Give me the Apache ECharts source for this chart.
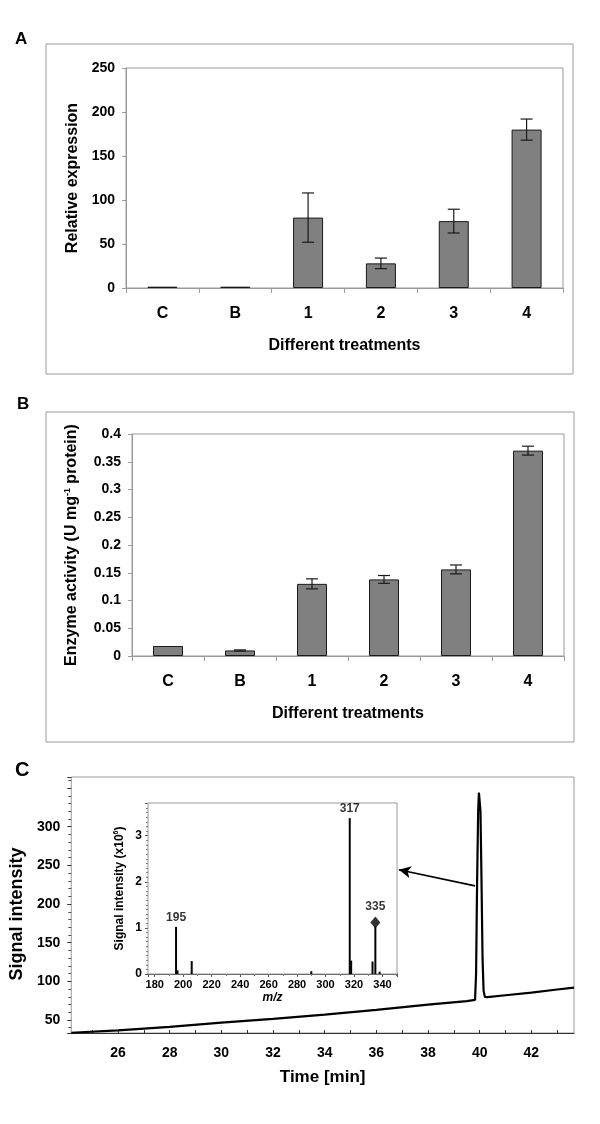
<!DOCTYPE html>
<html><head><meta charset="utf-8">
<script src="https://cdn.jsdelivr.net/npm/echarts@6/dist/echarts.min.js"></script>
<style>html,body{margin:0;padding:0;background:#fff}#c{width:600px;height:1124px}</style>
</head><body><div id="c"></div>
<script>
// ---------- data ----------
const categories = ['C', 'B', '1', '2', '3', '4'];
const exprValues = [1.5, 1.5, 80, 28, 76, 180];
const exprErrors = [0, 0, 28, 6, 13.5, 12];
const exprTicks = [0, 50, 100, 150, 200, 250];
const enzValues = [0.018, 0.010, 0.130, 0.138, 0.156, 0.370];
const enzErrors = [0, 0.001, 0.009, 0.007, 0.008, 0.008];

const timeMin = [24.19, 26, 28, 30, 32, 34, 36, 38, 39.5, 39.82, 39.86, 39.9, 39.94, 39.97, 40.0, 40.03, 40.07, 40.11, 40.15, 40.2, 40.3, 41, 42, 43, 43.65];
const signal  = [33.5, 36.5, 41, 46.5, 51.5, 57, 63, 70, 74.5, 76, 110, 230, 320, 344, 344, 320, 230, 130, 88, 80, 79.5, 82, 85.5, 89.5, 92];

const mzValues    = [195, 196, 206, 290, 317, 318, 333, 335, 338];
const mzIntensity = [1.02, 0.08, 0.28, 0.06, 3.38, 0.29, 0.27, 1.03, 0.05];
const labeledPeaks = [195, 317, 335];

const arrowFrom = [39.82, 223.5];
const arrowTo = [36.87, 244.4];

// ---------- helpers ----------
const FONT = "'Liberation Sans', Arial, Helvetica, sans-serif";
const GRAY = '#9a9a9a';

function errorSeries(vals, errs, axisIdx) {
  return {
    type: 'custom', xAxisIndex: axisIdx, yAxisIndex: axisIdx, z: 5, silent: true,
    data: vals.map((v, i) => [i, v - errs[i], v + errs[i]]),
    renderItem(params, api) {
      const lo = api.coord([api.value(0), api.value(1)]);
      const hi = api.coord([api.value(0), api.value(2)]);
      if (Math.abs(lo[1] - hi[1]) < 0.3) return { type: 'group', children: [] };
      const w = 6;
      const st = { stroke: '#1a1a1a', lineWidth: 1.2 };
      return { type: 'group', children: [
        { type: 'line', shape: { x1: hi[0], y1: hi[1], x2: lo[0], y2: lo[1] }, style: st },
        { type: 'line', shape: { x1: hi[0] - w, y1: hi[1], x2: hi[0] + w, y2: hi[1] }, style: st },
        { type: 'line', shape: { x1: lo[0] - w, y1: lo[1], x2: lo[0] + w, y2: lo[1] }, style: st }
      ]};
    }
  };
}

function catAxis(gi) {
  return {
    type: 'category', gridIndex: gi, data: categories, boundaryGap: true,
    axisLine: { lineStyle: { color: GRAY, width: 1 } },
    axisTick: { show: true, alignWithLabel: false, length: 5, lineStyle: { color: GRAY } },
    axisLabel: { color: '#000', fontSize: 16, fontWeight: 'bold', fontFamily: FONT, margin: 18 },
    name: 'Different treatments', nameLocation: 'middle', nameGap: 50,
    nameTextStyle: { color: '#000', fontSize: 16, fontWeight: 'bold', fontFamily: FONT }
  };
}

const labelStyle = { color: '#000', fontWeight: 'bold', fontFamily: FONT };

const option = {
  animation: false,
  backgroundColor: '#fff',
  textStyle: { fontFamily: FONT },
  grid: [
    { left: 126, right: 37, top: 68, bottom: 836, show: true, borderColor: GRAY, borderWidth: 1 },
    { left: 132, right: 36, top: 434, bottom: 468, show: true, borderColor: GRAY, borderWidth: 1 },
    { left: 68, right: 26, top: 777, bottom: 91, show: true, borderColor: GRAY, borderWidth: 1 },
    { left: 148, right: 203, top: 803, bottom: 150, show: true, borderColor: GRAY, borderWidth: 1, backgroundColor: '#fff', z: 3 }
  ],
  xAxis: [
    catAxis(0),
    catAxis(1),
    {
      type: 'value', gridIndex: 2, min: 24.19, max: 43.65, minInterval: 1, maxInterval: 1,
      splitLine: { show: false },
      axisLine: { show: true, lineStyle: { color: '#333', width: 1 } },
      axisTick: { show: true, inside: true, length: 3, lineStyle: { color: '#333' } },
      axisLabel: Object.assign({ fontSize: 14, margin: 13, showMinLabel: false, showMaxLabel: false,
        formatter: v => (Math.abs(v % 2) < 1e-6 ? String(v) : '') }, labelStyle),
      name: 'Time [min]', nameLocation: 'middle', nameGap: 36,
      nameTextStyle: Object.assign({ fontSize: 17 }, labelStyle)
    },
    {
      type: 'value', gridIndex: 3, min: 175.3, max: 350.2, minInterval: 20, maxInterval: 20,
      splitLine: { show: false },
      axisLine: { show: true, onZero: false, lineStyle: { color: '#000', width: 1.5 } },
      axisTick: { show: true, length: 3, lineStyle: { color: '#555' } },
      minorTick: { show: true, splitNumber: 2, length: 2, lineStyle: { color: '#777' } },
      axisLabel: Object.assign({ fontSize: 11, margin: 5, showMinLabel: false, showMaxLabel: false }, labelStyle),
      name: 'm/z', nameLocation: 'middle', nameGap: 18,
      nameTextStyle: Object.assign({ fontSize: 12, fontStyle: 'italic' }, labelStyle)
    }
  ],
  yAxis: [
    {
      type: 'value', gridIndex: 0, min: exprTicks[0], max: exprTicks[exprTicks.length - 1], interval: 50,
      splitLine: { show: false },
      axisLine: { show: true, lineStyle: { color: GRAY } },
      axisTick: { show: true, length: 4, lineStyle: { color: GRAY } },
      axisLabel: Object.assign({ fontSize: 14, margin: 11 }, labelStyle),
      name: 'Relative expression', nameLocation: 'middle', nameGap: 45,
      nameTextStyle: Object.assign({ fontSize: 16 }, labelStyle)
    },
    {
      type: 'value', gridIndex: 1, min: 0, max: 0.4, interval: 0.05,
      splitLine: { show: false },
      axisLine: { show: true, lineStyle: { color: GRAY } },
      axisTick: { show: true, length: 4, lineStyle: { color: GRAY } },
      axisLabel: Object.assign({ fontSize: 14, margin: 11 }, labelStyle),
      name: '{a|Enzyme activity (U mg}{s|-1}{a| protein)}', nameLocation: 'middle', nameGap: 51,
      nameTextStyle: Object.assign({ fontSize: 16, rich: {
        a: { fontSize: 16, fontWeight: 'bold', fontFamily: FONT, color: '#000', lineHeight: 18 },
        s: { fontSize: 9, fontWeight: 'bold', fontFamily: FONT, color: '#000', verticalAlign: 'top', lineHeight: 10 }
      } }, labelStyle)
    },
    {
      type: 'value', gridIndex: 2, min: 33.2, max: 364.3, minInterval: 50, maxInterval: 50,
      splitLine: { show: false },
      axisLine: { show: false },
      axisTick: { show: true, length: 4, lineStyle: { color: '#333' } },
      minorTick: { show: true, splitNumber: 5, length: 3, lineStyle: { color: '#555' } },
      axisLabel: Object.assign({ fontSize: 14, margin: 11, showMinLabel: false, showMaxLabel: false,
        formatter: v => (v > 300 ? '' : String(v)) }, labelStyle),
      name: 'Signal intensity', nameLocation: 'middle', nameGap: 42,
      nameTextStyle: Object.assign({ fontSize: 18, padding: [0, 18, 0, 0] }, labelStyle)
    },
    {
      type: 'value', gridIndex: 3, min: 0, max: 3.71, minInterval: 1, maxInterval: 1,
      splitLine: { show: false },
      axisLine: { show: false },
      axisTick: { show: true, length: 3, lineStyle: { color: '#555' } },
      minorTick: { show: true, splitNumber: 10, length: 2, lineStyle: { color: '#777' } },
      axisLabel: Object.assign({ fontSize: 12, margin: 6, showMaxLabel: false }, labelStyle),
      name: '{a|Signal intensity (x10}{s|6}{a|)}', nameLocation: 'middle', nameGap: 21,
      nameTextStyle: Object.assign({ fontSize: 12, rich: {
        a: { fontSize: 12, fontWeight: 'bold', fontFamily: FONT, color: '#000', lineHeight: 14 },
        s: { fontSize: 7, fontWeight: 'bold', fontFamily: FONT, color: '#000', verticalAlign: 'top', lineHeight: 8 }
      } }, labelStyle)
    }
  ],
  series: [
    { type: 'bar', xAxisIndex: 0, yAxisIndex: 0, data: exprValues, barWidth: 30,
      itemStyle: { color: '#808080', borderColor: '#1a1a1a', borderWidth: 1 } },
    errorSeries(exprValues, exprErrors, 0),
    { type: 'bar', xAxisIndex: 1, yAxisIndex: 1, data: enzValues, barWidth: 30,
      itemStyle: { color: '#808080', borderColor: '#1a1a1a', borderWidth: 1 } },
    errorSeries(enzValues, enzErrors, 1),
    { type: 'line', xAxisIndex: 2, yAxisIndex: 2, data: timeMin.map((t, i) => [t, signal[i]]),
      symbol: 'none', lineStyle: { color: '#000', width: 2.2 }, z: 2,
      markLine: { silent: true, symbol: ['none', 'arrow'], symbolSize: [9, 12], label: { show: false },
        lineStyle: { color: '#000', width: 1.6, type: 'solid' },
        data: [[{ coord: arrowFrom }, { coord: arrowTo }]] } },
    { type: 'bar', xAxisIndex: 3, yAxisIndex: 3, data: mzValues.map((m, i) => [m, mzIntensity[i]]),
      barWidth: 2, itemStyle: { color: '#000' }, z: 4 },
    { type: 'scatter', xAxisIndex: 3, yAxisIndex: 3, z: 5,
      data: labeledPeaks.map(m => {
        const v = mzIntensity[mzValues.indexOf(m)];
        const isDiamond = m === 335;
        return {
          value: [m, v], name: String(m),
          symbol: isDiamond ? 'diamond' : 'circle',
          symbolSize: isDiamond ? [10, 12] : 1,
          symbolOffset: isDiamond ? [0, -4] : [0, 0],
          label: { show: true, position: 'top', distance: isDiamond ? 4 : 3, formatter: '{b}',
            color: '#000', fontSize: 12, fontWeight: 'bold', fontFamily: FONT }
        };
      }),
      itemStyle: { color: '#000' } }
  ],
  graphic: [
    { type: 'rect', shape: { x: 46, y: 44, width: 527, height: 330 }, style: { fill: 'none', stroke: GRAY, lineWidth: 1 }, z: -1 },
    { type: 'rect', shape: { x: 46, y: 412, width: 528, height: 330 }, style: { fill: 'none', stroke: GRAY, lineWidth: 1 }, z: -1 },
    { type: 'text', left: 15, top: 31, style: { text: 'A', fontSize: 17, fontWeight: 'bold', fontFamily: FONT, fill: '#000' } },
    { type: 'text', left: 17, top: 396, style: { text: 'B', fontSize: 17, fontWeight: 'bold', fontFamily: FONT, fill: '#000' } },
    { type: 'text', left: 15, top: 760, style: { text: 'C', fontSize: 20, fontWeight: 'bold', fontFamily: FONT, fill: '#000' } }
  ]
};

const chart = echarts.init(document.getElementById('c'), null, { renderer: 'canvas', width: 600, height: 1124 });
chart.setOption(option);
</script>
</body></html>
